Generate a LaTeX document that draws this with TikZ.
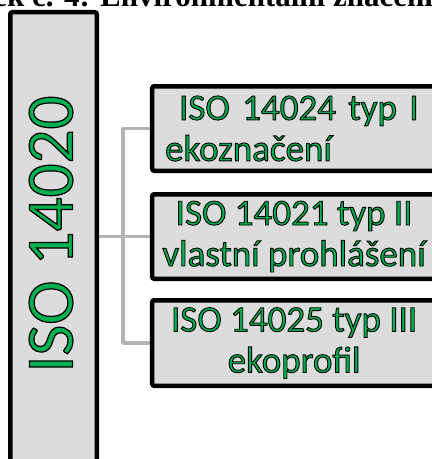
\documentclass[tikz,border=0pt]{standalone}
\usepackage{fontspec}
\newfontfamily\carl{Carlito}
\newfontfamily\capf{Liberation Serif}
\definecolor{boxfill}{HTML}{DCDCDC}
\definecolor{connc}{HTML}{B4B4B4}
\pgfdeclarelayer{bg}
\pgfsetlayers{bg,main}
% green fill, black outline text (PDF text render mode 2)
\newcommand\greenoutl[1]{\special{pdf:literal direct 0 0.69 0.314 rg 0 0 0 RG #1 w 2 Tr}}
\tikzset{
  box/.style={draw=black, fill=boxfill, line width=4.5pt, rounded corners=2pt, inner sep=0pt},
  outl/.style={execute at begin node={\greenoutl{#1}}},
  itemtext/.style={font=\carl\fontsize{37}{41}\selectfont, outl=0.9},
  conn/.style={draw=connc, line width=3.5pt},
}
\begin{document}
\begin{tikzpicture}[x=1pt,y=-1pt]
\useasboundingbox (0,0) rectangle (432,459);
\clip (0,0) rectangle (432,459);
% caption (cut off at top)
\node[anchor=base west, inner sep=0pt, font=\capf\bfseries\fontsize{31}{36}\selectfont] (cap) at (100,6) {\llap{Obrázek č. 4: }Environmentální značení};
% left box
\node[box, minimum width=86.5pt, minimum height=467.75pt] (L) at (53.5,246.1) {};
\node[rotate=90, inner sep=0pt, font=\carl\fontsize{67}{80}\selectfont, outl=1.2] (Lt) at (51,234) {ISO 14020};
% right boxes
\node[box, minimum width=283.75pt, minimum height=84.5pt, align=left, text width=258pt, inner xsep=12.75pt, itemtext] (b1) at (294.1,128.5) {\hspace*{14pt}ISO 14024 typ I\\ekoznačení};
\node[box, minimum width=283.75pt, minimum height=84.5pt, align=center, itemtext] (b2) at (294.1,236.5) {ISO 14021 typ II\\vlastní prohlášení};
\node[box, minimum width=283.75pt, minimum height=85.5pt, align=center, itemtext] (b3) at (294.1,343) {ISO 14025 typ III\\ekoprofil};
\coordinate (j) at (123,237);
\begin{pgfonlayer}{bg}
\draw[conn] (L.east |- b2.west) -- (b2.west);
\draw[conn, line join=round] (b1.west) -- (j |- b1.west) -- (j |- b3.west) -- (b3.west);
\end{pgfonlayer}
\end{tikzpicture}
\end{document}
